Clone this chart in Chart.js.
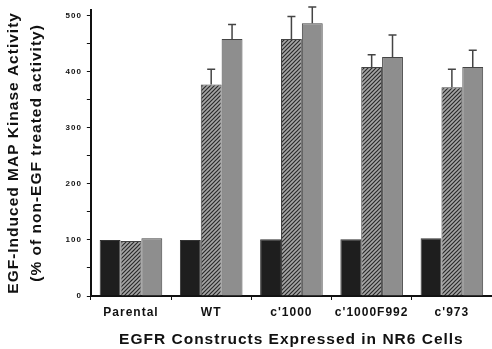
<!DOCTYPE html>
<html>
<head>
<meta charset="utf-8">
<script src="https://cdn.jsdelivr.net/npm/chart.js@4"></script>
<style>
  html, body { margin: 0; background: #fff; }
  #wrap { width: 492px; height: 349px; }
</style>
</head>
<body>
<div id="wrap"><canvas id="mapkChart"></canvas></div>
<script>
// values (% of non-EGF treated activity)
const constructs = ["Parental", "WT", "c'1000", "c'1000F992", "c'973"];
const noEgf      = [100, 100, 101, 101, 103];
const egfLow     = [98, 377, 458, 408, 372];
const egfLowErr  = [0, 27, 40, 22, 32];
const egfHigh    = [103, 458, 486, 426, 408];
const egfHighErr = [0, 26, 29, 39, 30];
const yTicks     = [0, 50, 100, 150, 200, 250, 300, 350, 400, 450, 500];

const ctx = document.getElementById("mapkChart").getContext("2d");

function hatchPattern() {
  const c = document.createElement("canvas");
  c.width = c.height = 4;
  const g = c.getContext("2d");
  g.fillStyle = "#a6a6a6";
  g.fillRect(0, 0, 4, 4);
  g.strokeStyle = "#2a2a2a";
  g.lineWidth = 1.2;
  g.beginPath();
  g.moveTo(0, 4); g.lineTo(4, 0);
  g.moveTo(-1, 1); g.lineTo(1, -1);
  g.moveTo(3, 5); g.lineTo(5, 3);
  g.stroke();
  return ctx.createPattern(c, "repeat");
}

// wider letter spacing like the typeset original
const spacing = {
  id: "spacing",
  beforeLayout(chart) { chart.ctx.letterSpacing = "1px"; },
  beforeDraw(chart) { chart.ctx.letterSpacing = "1px"; }
};

// upper error bars only
const errorBars = {
  id: "errorBars",
  afterDatasetsDraw(chart) {
    const c = chart.ctx, y = chart.scales.y;
    c.save();
    c.strokeStyle = "#444";
    c.lineWidth = 1.5;
    [[1, egfLowErr], [2, egfHighErr]].forEach(([di, errs]) => {
      const vals = chart.data.datasets[di].data;
      chart.getDatasetMeta(di).data.forEach((bar, i) => {
        if (!errs[i]) return;
        const top = y.getPixelForValue(vals[i] + errs[i]);
        c.beginPath();
        c.moveTo(bar.x, bar.y);
        c.lineTo(bar.x, top);
        c.moveTo(bar.x - 4, top);
        c.lineTo(bar.x + 4, top);
        c.stroke();
      });
    });
    c.restore();
  }
};

const font = "'Liberation Sans', Arial, sans-serif";

new Chart(ctx, {
  type: "bar",
  data: {
    labels: constructs,
    datasets: [
      { data: noEgf, backgroundColor: "#1e1e1e", borderColor: "#333", borderWidth: 1 },
      { data: egfLow, backgroundColor: hatchPattern(), borderColor: "#444", borderWidth: 1 },
      { data: egfHigh, backgroundColor: "#8e8e8e", borderColor: "#444", borderWidth: 1 }
    ]
  },
  options: {
    responsive: true,
    maintainAspectRatio: false,
    animation: false,
    layout: { padding: { top: 8, right: 0, bottom: 0, left: 0 } },
    plugins: { legend: { display: false }, tooltip: { enabled: false } },
    datasets: { bar: { categoryPercentage: 0.78, barPercentage: 1 } },
    scales: {
      x: {
        grid: { offset: true, drawOnChartArea: false, tickLength: 4, color: "#111" },
        border: { color: "#111", width: 2 },
        ticks: {
          color: "#111",
          padding: 5,
          maxRotation: 0,
          minRotation: 0,
          autoSkip: false,
          font: { family: font, size: 12, weight: "bold" }
        },
        title: {
          display: true,
          text: "EGFR Constructs Expressed in NR6 Cells",
          color: "#111",
          padding: { top: 6, bottom: 0 },
          font: { family: font, size: 15.5, weight: "bold" }
        }
      },
      y: {
        min: 0,
        max: 510,
        afterBuildTicks: scale => { scale.ticks = yTicks.map(v => ({ value: v })); },
        grid: { drawOnChartArea: false, tickLength: 4, color: "#111" },
        border: { color: "#111", width: 2 },
        ticks: {
          color: "#111",
          padding: 5,
          autoSkip: false,
          font: { family: font, size: 8, weight: "bold" },
          callback: v => (v % 100 === 0 ? v : "")
        },
        title: {
          display: true,
          text: ["EGF-Induced MAP Kinase Activity", "(% of non-EGF treated activity)"],
          color: "#111",
          padding: { top: 2, bottom: 12 },
          font: { family: font, size: 15.5, weight: "bold", lineHeight: 1.5 }
        }
      }
    }
  },
  plugins: [spacing, errorBars]
});
</script>
</body>
</html>
